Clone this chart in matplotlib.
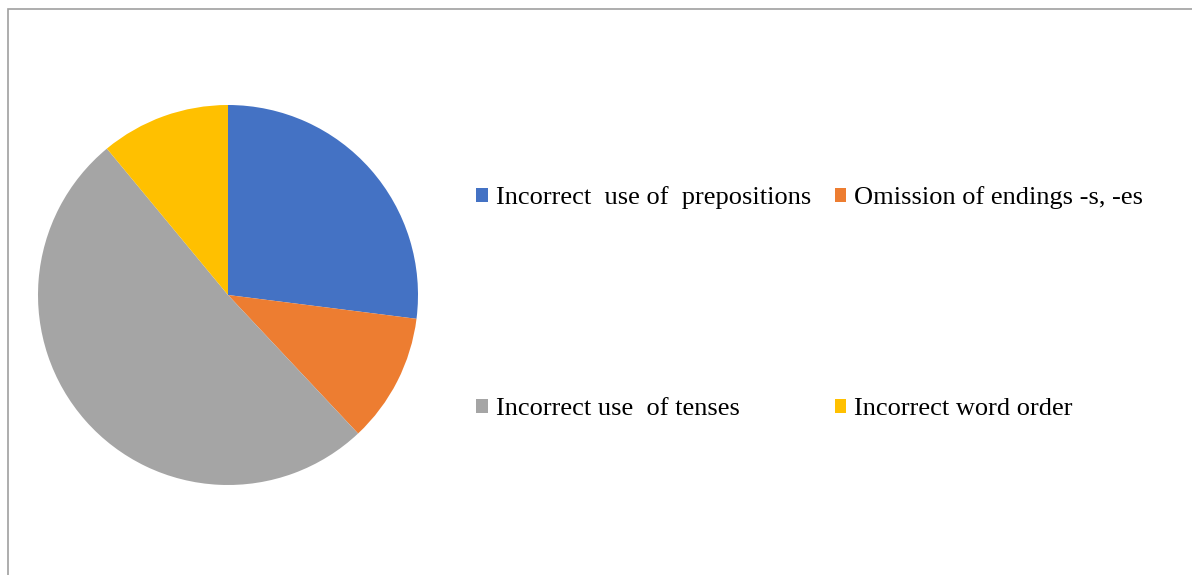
import matplotlib
matplotlib.use("Agg")
import matplotlib.pyplot as plt
from matplotlib.patches import Rectangle

# error categories and shares (%)
categories = [
    "Incorrect  use of  prepositions",
    "Omission of endings -s, -es",
    "Incorrect use  of tenses",
    "Incorrect word order",
]
shares = [27, 11, 51, 11]
colors = ["#4472C4", "#ED7D31", "#A5A5A5", "#FFC000"]

W, H = 1192, 575
fig = plt.figure(figsize=(W / 100, H / 100), dpi=100)

# chart-area border (only top and left are visible in the crop)
fig.patches.append(Rectangle((8 / W, -0.1), 1.2, (H - 9) / H + 0.1,
                             transform=fig.transFigure, fill=False,
                             edgecolor="#A0A0A0", linewidth=1.2))

cx, cy, r = 228, 295, 190
ax = fig.add_axes([(cx - r) / W, (H - cy - r) / H, 2 * r / W, 2 * r / H])
wedges, _ = ax.pie(shares, colors=colors, startangle=90, counterclock=False,
                   wedgeprops=dict(linewidth=0))
ax.set_xlim(-1, 1)
ax.set_ylim(-1, 1)
ax.set_aspect("equal")

# legend fills row by row in the original, matplotlib fills by column
order = [0, 2, 1, 3]
leg = fig.legend([wedges[i] for i in order], [categories[i] for i in order],
                 ncol=2, frameon=False,
                 loc="upper left", bbox_to_anchor=(463 / W, (H - 173) / H),
                 prop=dict(family="Liberation Serif", size=19),
                 handlelength=0.44, handleheight=0.44, handletextpad=0.3,
                 columnspacing=0.9, labelspacing=7.17, borderpad=0)

fig.savefig("out.png", dpi=100)
